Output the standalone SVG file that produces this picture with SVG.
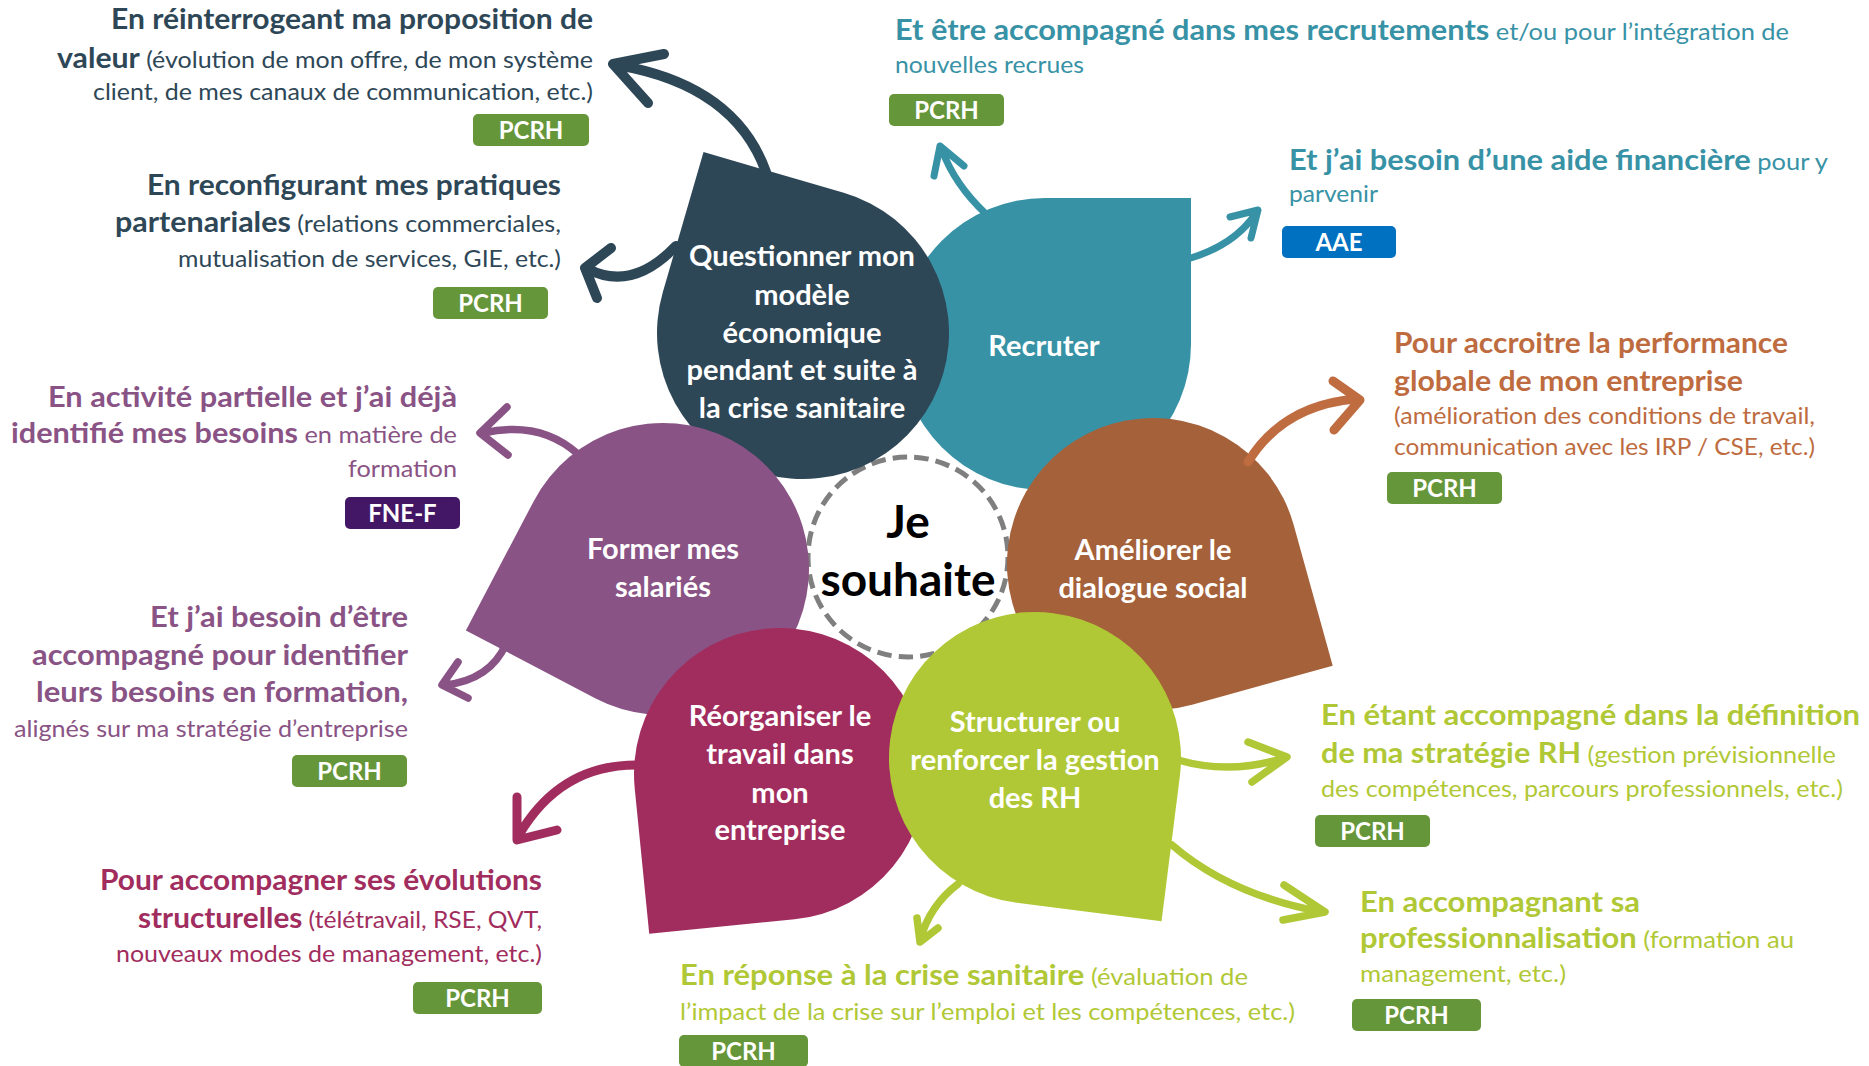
<svg xmlns="http://www.w3.org/2000/svg" width="1869" height="1066" viewBox="0 0 1869 1066">
<defs>
<style>
text{font-family:Lato,"Liberation Sans",sans-serif}
.b{font-weight:700;font-size:29px}
.r{font-weight:400;font-size:24px}
.lbl{font-weight:700;font-size:29px;fill:#fff;text-anchor:middle}
.bt{font-weight:700;font-size:24px;fill:#fff;text-anchor:middle}
.pcrh{fill:#66963A}
.fne{fill:#431766}
.aae{fill:#0070C0}
.arr{fill:none;stroke-linecap:round;stroke-linejoin:round}
.fNavy{fill:#2E4757}.sNavy{stroke:#2E4757;stroke-width:10}
.fTeal{fill:#3892A6}.sTeal{stroke:#3892A6;stroke-width:7}
.fOrange{fill:#A5613A}.tOrange{fill:#BE6C3F}.sOrange{stroke:#BE6C40;stroke-width:9}
.fPurple{fill:#8A5385}.sPurple{stroke:#8A5385;stroke-width:7.5}
.fMagenta{fill:#A12D5E}.sMagenta{stroke:#A12D5E;stroke-width:9}
.fGreen{fill:#B1C836}.sGreen{stroke:#B1C836;stroke-width:7.5}
</style>
<path id="drop" d="M-146 0A146 146 0 0 1 0-146H146V0A146 146 0 0 1 0 146A146 146 0 0 1-146 0Z"/>
</defs>
<rect width="1869" height="1066" fill="#fff"/>

<g id="center">
<circle cx="908" cy="557" r="100" fill="#fff" stroke="#7F7F7F" stroke-width="5" stroke-dasharray="14.5 7.17"/>
<text x="908" y="538" font-size="46" font-weight="700" fill="#000" text-anchor="middle">Je</text>
<text x="908" y="596" font-size="46" font-weight="700" fill="#000" text-anchor="middle">souhaite</text>
</g>

<g id="node-recruter">
<use href="#drop" class="fTeal" transform="translate(1045 344)"/>
<text class="lbl" x="1044" y="356">Recruter</text>
</g>
<g id="node-questionner">
<use href="#drop" class="fNavy" transform="translate(803 333) rotate(-73.8)"/>
<text class="lbl" x="802" y="266">Questionner mon</text>
<text class="lbl" x="802" y="305">modèle</text>
<text class="lbl" x="802" y="343">économique</text>
<text class="lbl" x="802" y="380">pendant et suite à</text>
<text class="lbl" x="802" y="418">la crise sanitaire</text>
</g>
<g id="node-dialogue">
<use href="#drop" class="fOrange" transform="translate(1153 564) rotate(74.5)"/>
<text class="lbl" x="1153" y="560">Améliorer le</text>
<text class="lbl" x="1153" y="598">dialogue social</text>
</g>
<g id="node-former">
<use href="#drop" class="fPurple" transform="translate(663 569) rotate(207.7)"/>
<text class="lbl" x="663" y="559">Former mes</text>
<text class="lbl" x="663" y="597">salariés</text>
</g>
<g id="node-reorganiser">
<use href="#drop" class="fMagenta" transform="translate(780 774) rotate(174.3)"/>
<text class="lbl" x="780" y="726">Réorganiser le</text>
<text class="lbl" x="780" y="764">travail dans</text>
<text class="lbl" x="780" y="803">mon</text>
<text class="lbl" x="780" y="840">entreprise</text>
</g>
<g id="node-structurer">
<use href="#drop" class="fGreen" transform="translate(1035 758) rotate(97.2)"/>
<text class="lbl" x="1035" y="732">Structurer ou</text>
<text class="lbl" x="1035" y="770">renforcer la gestion</text>
<text class="lbl" x="1035" y="808">des RH</text>
</g>

<g id="connectors" class="arr">
<path class="sNavy" d="M766 172Q735 85 617 65M664 54L613 64L648 103"/>
<path class="sNavy" d="M676 246Q632 292 588 269M611 248L585 268L597 298"/>
<path class="sTeal" d="M986 214Q955 185 942 150M934 176L940 146L964 166"/>
<path class="sTeal" d="M1188 259Q1235 245 1256 213M1230 217L1258 210L1251 238"/>
<path class="sOrange" d="M1248 462Q1283 405 1356 399M1333 381L1360 400L1334 430"/>
<path class="sPurple" d="M578 454Q540 420 483 433M507 407L480 433L508 455"/>
<path class="sPurple" d="M506 644Q490 680 445 685M458 662L442 685L468 698"/>
<path class="sMagenta" d="M636 765Q560 765 519 835M517 797L517 840L557 830"/>
<path class="sGreen" d="M1178 760Q1230 775 1284 758M1248 742L1287 757L1252 782"/>
<path class="sGreen" d="M1172 845Q1230 895 1322 912M1284 885L1325 912L1283 920"/>
<path class="sGreen" d="M958 884Q930 905 920 940M917 918L920 942L938 928"/>
</g>

<g id="note-valeur" class="fNavy">
<text class="b" x="593" y="29" text-anchor="end" textLength="482" lengthAdjust="spacingAndGlyphs">En réinterrogeant ma proposition de</text>
<text x="593" y="68" text-anchor="end" textLength="536" lengthAdjust="spacingAndGlyphs"><tspan class="b">valeur</tspan><tspan class="r"> (évolution de mon offre, de mon système</tspan></text>
<text class="r" x="593" y="100" text-anchor="end" textLength="500" lengthAdjust="spacingAndGlyphs">client, de mes canaux de communication, etc.)</text>
<rect class="pcrh" x="473" y="114" width="116" height="32" rx="5"/>
<text class="bt" x="531" y="139">PCRH</text>
</g>

<g id="note-partenariales" class="fNavy">
<text class="b" x="561" y="195" text-anchor="end" textLength="414" lengthAdjust="spacingAndGlyphs">En reconfigurant mes pratiques</text>
<text x="561" y="232" text-anchor="end" textLength="446" lengthAdjust="spacingAndGlyphs"><tspan class="b">partenariales</tspan><tspan class="r"> (relations commerciales,</tspan></text>
<text class="r" x="561" y="267" text-anchor="end" textLength="383" lengthAdjust="spacingAndGlyphs">mutualisation de services, GIE, etc.)</text>
<rect class="pcrh" x="433" y="287" width="115" height="32" rx="5"/>
<text class="bt" x="490.5" y="312">PCRH</text>
</g>

<g id="note-activite" class="fPurple">
<text class="b" x="457" y="407" text-anchor="end" textLength="409" lengthAdjust="spacingAndGlyphs">En activité partielle et j’ai déjà</text>
<text x="457" y="443" text-anchor="end" textLength="446" lengthAdjust="spacingAndGlyphs"><tspan class="b">identifié mes besoins</tspan><tspan class="r"> en matière de</tspan></text>
<text class="r" x="457" y="477" text-anchor="end" textLength="109" lengthAdjust="spacingAndGlyphs">formation</text>
<rect class="fne" x="345" y="497" width="115" height="32" rx="5"/>
<text class="bt" x="402.5" y="522">FNE-F</text>
</g>

<g id="note-besoins" class="fPurple">
<text class="b" x="408" y="627" text-anchor="end" textLength="258" lengthAdjust="spacingAndGlyphs">Et j’ai besoin d’être</text>
<text class="b" x="408" y="665" text-anchor="end" textLength="376" lengthAdjust="spacingAndGlyphs">accompagné pour identifier</text>
<text class="b" x="408" y="702" text-anchor="end" textLength="372" lengthAdjust="spacingAndGlyphs">leurs besoins en formation,</text>
<text class="r" x="408" y="737" text-anchor="end" textLength="394" lengthAdjust="spacingAndGlyphs">alignés sur ma stratégie d’entreprise</text>
<rect class="pcrh" x="292" y="755" width="115" height="32" rx="5"/>
<text class="bt" x="349.5" y="780">PCRH</text>
</g>

<g id="note-evolutions" class="fMagenta">
<text class="b" x="542" y="890" text-anchor="end" textLength="442" lengthAdjust="spacingAndGlyphs">Pour accompagner ses évolutions</text>
<text x="542" y="928" text-anchor="end" textLength="404" lengthAdjust="spacingAndGlyphs"><tspan class="b">structurelles</tspan><tspan class="r"> (télétravail, RSE, QVT,</tspan></text>
<text class="r" x="542" y="962" text-anchor="end" textLength="426" lengthAdjust="spacingAndGlyphs">nouveaux modes de management, etc.)</text>
<rect class="pcrh" x="413" y="982" width="129" height="32" rx="5"/>
<text class="bt" x="477.5" y="1007">PCRH</text>
</g>

<g id="note-crise" class="fGreen">
<text x="680" y="985" textLength="568" lengthAdjust="spacingAndGlyphs"><tspan class="b">En réponse à la crise sanitaire</tspan><tspan class="r"> (évaluation de</tspan></text>
<text class="r" x="680" y="1020" textLength="615" lengthAdjust="spacingAndGlyphs">l’impact de la crise sur l’emploi et les compétences, etc.)</text>
<rect class="pcrh" x="679" y="1035" width="129" height="32" rx="5"/>
<text class="bt" x="743.5" y="1060">PCRH</text>
</g>

<g id="note-professionnalisation" class="fGreen">
<text class="b" x="1360" y="912" textLength="280" lengthAdjust="spacingAndGlyphs">En accompagnant sa</text>
<text x="1360" y="948" textLength="434" lengthAdjust="spacingAndGlyphs"><tspan class="b">professionnalisation</tspan><tspan class="r"> (formation au</tspan></text>
<text class="r" x="1360" y="982" textLength="206" lengthAdjust="spacingAndGlyphs">management, etc.)</text>
<rect class="pcrh" x="1352" y="999" width="129" height="32" rx="5"/>
<text class="bt" x="1416.5" y="1024">PCRH</text>
</g>

<g id="note-strategie" class="fGreen">
<text class="b" x="1321" y="725" textLength="539" lengthAdjust="spacingAndGlyphs">En étant accompagné dans la définition</text>
<text x="1321" y="763" textLength="515" lengthAdjust="spacingAndGlyphs"><tspan class="b">de ma stratégie RH</tspan><tspan class="r"> (gestion prévisionnelle</tspan></text>
<text class="r" x="1321" y="797" textLength="522" lengthAdjust="spacingAndGlyphs">des compétences, parcours professionnels, etc.)</text>
<rect class="pcrh" x="1315" y="815" width="115" height="32" rx="5"/>
<text class="bt" x="1372.5" y="840">PCRH</text>
</g>

<g id="note-performance" class="tOrange">
<text class="b" x="1394" y="353" textLength="394" lengthAdjust="spacingAndGlyphs">Pour accroitre la performance</text>
<text class="b" x="1394" y="391" textLength="349" lengthAdjust="spacingAndGlyphs">globale de mon entreprise</text>
<text class="r" x="1394" y="424" textLength="421" lengthAdjust="spacingAndGlyphs">(amélioration des conditions de travail,</text>
<text class="r" x="1394" y="455" textLength="421" lengthAdjust="spacingAndGlyphs">communication avec les IRP / CSE, etc.)</text>
<rect class="pcrh" x="1387" y="472" width="115" height="32" rx="5"/>
<text class="bt" x="1444.5" y="497">PCRH</text>
</g>

<g id="note-aide" class="fTeal">
<text x="1289" y="170" textLength="539" lengthAdjust="spacingAndGlyphs"><tspan class="b">Et j’ai besoin d’une aide financière</tspan><tspan class="r"> pour y</tspan></text>
<text class="r" x="1289" y="202" textLength="89" lengthAdjust="spacingAndGlyphs">parvenir</text>
<rect class="aae" x="1282" y="226" width="114" height="32" rx="5"/>
<text class="bt" x="1339" y="251">AAE</text>
</g>

<g id="note-recrutements" class="fTeal">
<text x="895" y="40" textLength="894" lengthAdjust="spacingAndGlyphs"><tspan class="b">Et être accompagné dans mes recrutements</tspan><tspan class="r"> et/ou pour l’intégration de</tspan></text>
<text class="r" x="895" y="73" textLength="189" lengthAdjust="spacingAndGlyphs">nouvelles recrues</text>
<rect class="pcrh" x="889" y="94" width="115" height="32" rx="5"/>
<text class="bt" x="946.5" y="119">PCRH</text>
</g>
</svg>
